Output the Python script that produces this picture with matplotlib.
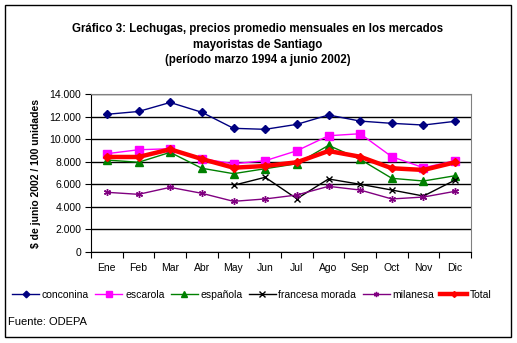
import numpy as np
import matplotlib.pyplot as plt
from matplotlib.patches import Rectangle

plt.rcParams["font.family"] = ["Liberation Sans", "DejaVu Sans"]

months = ["Ene", "Feb", "Mar", "Abr", "May", "Jun", "Jul", "Ago", "Sep", "Oct", "Nov", "Dic"]

conconina = [12200, 12450, 13250, 12380, 10960, 10870, 11310, 12140, 11600, 11400, 11250, 11580]
escarola = [8710, 9060, 9150, 8270, 7820, 8090, 8970, 10300, 10480, 8440, 7470, 8090]
espanola = [8150, 7950, 8830, 7420, 6940, 7380, 7820, 9450, 8210, 6530, 6290, 6760]
francesa = [np.nan, np.nan, np.nan, np.nan, 5910, 6620, 4720, 6470, 6000, 5490, 4960, 6380]
milanesa = [5290, 5110, 5730, 5200, 4490, 4700, 5050, 5820, 5490, 4700, 4870, 5380]
total = [8420, 8420, 9100, 8240, 7470, 7620, 7950, 8950, 8440, 7420, 7270, 7950]

fig = plt.figure(figsize=(5.17, 3.43), dpi=100)
ax = fig.add_axes([91 / 517, 91 / 343, 380 / 517, 158 / 343])

x = np.arange(len(months))
ax.plot(x, conconina, color="#000080", lw=1, marker="D", ms=4.5, label="conconina")
ax.plot(x, escarola, color="#FF00FF", lw=1, marker="s", ms=5.5, label="escarola")
ax.plot(x, espanola, color="#008000", lw=1, marker="^", ms=6, label="española")
ax.plot(x, francesa, color="black", lw=1, marker="x", ms=5, mew=1, label="francesa morada")
ax.plot(x, milanesa, color="#800080", lw=1, marker=(6, 2, 0), ms=5, mew=1, label="milanesa")
ax.plot(x, total, color="#FF0000", lw=3.2, marker="D", ms=4, label="Total")

ax.set_xlim(-0.5, 11.5)
ax.set_ylim(0, 14000)
ax.set_yticks(np.arange(0, 14001, 2000))
ax.set_yticklabels([f"{v:,}".replace(",", ".") for v in range(0, 14001, 2000)], fontsize=7.5)
ax.yaxis.grid(True, color="black", lw=1)
ax.set_axisbelow(True)

ax.set_xticks(np.arange(-0.5, 12, 1))
ax.set_xticklabels([])
ax.set_xticks(x, minor=True)
ax.set_xticklabels(months, minor=True, fontsize=7.5)
ax.tick_params(axis="x", which="minor", length=0, pad=8)
ax.tick_params(axis="x", which="major", direction="out", length=4, color="black")
ax.tick_params(axis="y", direction="out", length=4, pad=3)

for s in ["top", "right"]:
    ax.spines[s].set_color("#808080")
for s in ["left", "bottom"]:
    ax.spines[s].set_color("black")

ax.set_ylabel("$ de junio 2002 / 100 unidades", fontsize=7.5, fontweight="bold", labelpad=6)

fig.text(0.499, 1 - 23 / 343, "Gráfico 3: Lechugas, precios promedio mensuales en los mercados\n"
         "mayoristas de Santiago\n(período marzo 1994 a junio 2002)",
         ha="center", va="top", fontsize=8.3, fontweight="bold", linespacing=1.4)

fig.legend(loc="center", bbox_to_anchor=(252 / 517, 1 - 295 / 343), ncol=6, frameon=False,
           fontsize=7.5, handlelength=2.6, handletextpad=0.25, columnspacing=0.6,
           markerscale=0.75)

fig.text(8 / 517, 1 - 322 / 343, "Fuente: ODEPA", fontsize=8, va="center", ha="left")

fig.patches.append(Rectangle((5 / 517, 6 / 343), 506 / 517, 332 / 343, transform=fig.transFigure,
                             fill=False, edgecolor="black", lw=1))

fig.savefig("out.png", dpi=100)
